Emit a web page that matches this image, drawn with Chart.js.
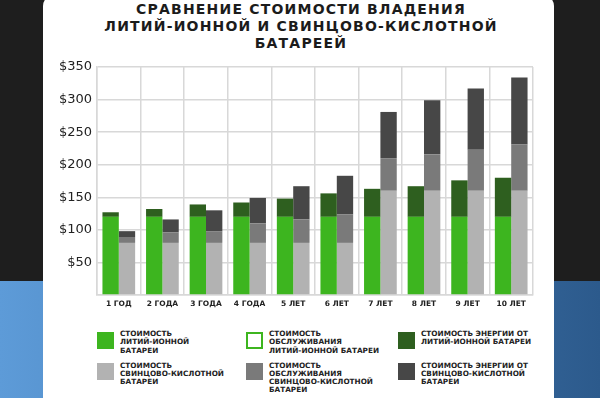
<!DOCTYPE html>
<html>
<head>
<meta charset="utf-8">
<script src="https://cdn.jsdelivr.net/npm/chart.js@4"></script>
<style>
  html, body { margin: 0; padding: 0; }
  body {
    width: 600px; height: 398px; overflow: hidden; position: relative;
    background: linear-gradient(to bottom, #1e1e1e 0, #1e1e1e 281px, transparent 281px),
                linear-gradient(to right, #5d9bd8, #2c5a8c);
    font-family: "DejaVu Sans", sans-serif;
  }
  #card {
    position: absolute; left: 43px; top: -5px; width: 511px; height: 420px;
    background: #fff; border-radius: 11px;
  }
  #title {
    position: absolute; left: 43px; width: 516px; top: 1px;
    text-align: center; font-weight: bold; font-size: 14px; line-height: 17px;
    letter-spacing: 1.2px; color: #1b1b1b;
  }
  #chart { position: absolute; left: 0; top: 0; }
  #legend {
    position: absolute; left: 97px; top: 330px;
    display: grid; grid-template-columns: 149px 152px 150px; grid-auto-rows: 31.6px;
  }
  .item { display: flex; align-items: flex-start; }
  .box { width: 17px; height: 17px; flex: none; margin-top: 1.5px; box-sizing: border-box; }
  .txt {
    margin-left: 6px; font-weight: bold; font-size: 7.3px; line-height: 8.3px;
    color: #222; white-space: pre;
  }
</style>
</head>
<body>
<div id="card"></div>
<div id="title">СРАВНЕНИЕ СТОИМОСТИ ВЛАДЕНИЯ<br>ЛИТИЙ-ИОННОЙ И СВИНЦОВО-КИСЛОТНОЙ<br>БАТАРЕЕЙ</div>
<canvas id="chart" width="600" height="320"></canvas>
<div id="legend"></div>
<script>
const years = ["1 ГОД", "2 ГОДА", "3 ГОДА", "4 ГОДА", "5 ЛЕТ", "6 ЛЕТ", "7 ЛЕТ", "8 ЛЕТ", "9 ЛЕТ", "10 ЛЕТ"];

// литий-ионная
const liCost = [120, 120, 120, 120, 120, 120, 120, 120, 120, 120];
const liMaint = [0, 0, 0, 0, 0, 0, 0, 0, 0, 0];
const liEnergy = [7, 12, 19, 22, 28, 36, 43, 47, 56, 60];

// свинцово-кислотная
const pbCost = [80, 80, 80, 80, 80, 80, 160, 160, 160, 160];
const pbMaint = [9, 16, 18, 30, 36, 44, 50, 56, 63, 71];
const pbEnergy = [9, 20, 32, 39, 51, 59, 71, 83, 94, 103];

const yTicks = [50, 100, 150, 200, 250, 300, 350];

const names = [
    "СТОИМОСТЬ\nЛИТИЙ-ИОННОЙ\nБАТАРЕИ",
    "СТОИМОСТЬ\nОБСЛУЖИВАНИЯ\nЛИТИЙ-ИОННОЙ БАТАРЕИ",
    "СТОИМОСТЬ ЭНЕРГИИ ОТ\nЛИТИЙ-ИОННОЙ БАТАРЕИ",
    "СТОИМОСТЬ\nСВИНЦОВО-КИСЛОТНОЙ\nБАТАРЕИ",
    "СТОИМОСТЬ\nОБСЛУЖИВАНИЯ\nСВИНЦОВО-КИСЛОТНОЙ\nБАТАРЕИ",
    "СТОИМОСТЬ ЭНЕРГИИ ОТ\nСВИНЦОВО-КИСЛОТНОЙ\nБАТАРЕИ"
];

const datasets = [
    { label: names[0], data: liCost, stack: "li", backgroundColor: "#3db51f", edge: "#3db51f" },
    { label: names[1], data: liMaint, stack: "li", backgroundColor: "#ffffff", edge: "#3db51f" },
    { label: names[2], data: liEnergy, stack: "li", backgroundColor: "#2e5f1f", edge: "#2e5f1f" },
    { label: names[3], data: pbCost, stack: "pb", backgroundColor: "#b2b2b2", edge: "#b2b2b2" },
    { label: names[4], data: pbMaint, stack: "pb", backgroundColor: "#7a7a7a", edge: "#7a7a7a" },
    { label: names[5], data: pbEnergy, stack: "pb", backgroundColor: "#474747", edge: "#474747" }
];

new Chart(document.getElementById("chart"), {
    type: "bar",
    data: { labels: years, datasets: datasets },
    options: {
        responsive: false,
        animation: false,
        categoryPercentage: 0.75,
        barPercentage: 1,
        borderWidth: 0,
        layout: { padding: { left: 0, right: 67, top: 67, bottom: 0 } },
        plugins: { legend: { display: false }, tooltip: { enabled: false } },
        scales: {
            x: {
                stacked: true,
                grid: { color: "#d8d8d8", lineWidth: 1.5, drawTicks: false },
                border: { color: "#d8d8d8", width: 1.5 },
                ticks: { color: "#222", padding: 5, font: { family: "DejaVu Sans", size: 7.5, weight: "bold" } },
                afterFit: s => { s.height = 25; }
            },
            y: {
                stacked: true,
                min: 0,
                max: 350,
                grid: { color: "#d8d8d8", lineWidth: 1.5, drawTicks: false },
                border: { color: "#d8d8d8", width: 1.5 },
                ticks: {
                    stepSize: 50,
                    padding: 5,
                    color: "#222",
                    font: { family: "DejaVu Sans", size: 13 },
                    callback: v => yTicks.includes(v) ? "$" + v : ""
                },
                afterFit: s => { s.width = 97; }
            }
        }
    }
});

const legend = document.getElementById("legend");
datasets.forEach(d => {
    const item = document.createElement("div");
    item.className = "item";
    const box = document.createElement("div");
    box.className = "box";
    box.style.background = d.backgroundColor;
    box.style.border = "2px solid " + d.edge;
    const txt = document.createElement("div");
    txt.className = "txt";
    txt.textContent = d.label;
    item.appendChild(box);
    item.appendChild(txt);
    legend.appendChild(item);
});
</script>
</body>
</html>
